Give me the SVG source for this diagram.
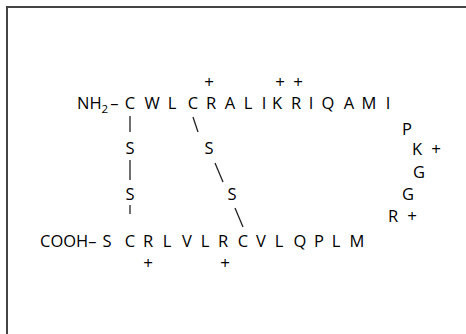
<svg xmlns="http://www.w3.org/2000/svg" width="466" height="334" viewBox="0 0 466 334">
<style>
.t{font-family:"Open Sans","Noto Sans",sans-serif;font-size:16.5px;fill:#000;text-anchor:middle}
.p{font-family:"Open Sans","Noto Sans",sans-serif;font-size:17px;fill:#000;text-anchor:middle}
.s{font-family:"Open Sans","Noto Sans",sans-serif;font-size:16.5px;fill:#000}
.b{stroke:#222;stroke-width:1.3;fill:none}
</style>
<rect width="466" height="334" fill="#fff"/>
<rect x="7" y="7" width="470" height="340" fill="none" stroke="#444" stroke-width="2"/>
<g id="connectors">
<line class="b" x1="130" y1="116" x2="130" y2="132"/>
<line class="b" x1="130" y1="160" x2="130" y2="180" stroke-width="1.8"/>
<line class="b" x1="130" y1="205" x2="130" y2="214"/>
<line class="b" x1="193" y1="117" x2="198" y2="132"/>
<line class="b" x1="215" y1="163" x2="223" y2="182"/>
<line class="b" x1="235" y1="208" x2="243" y2="227"/>
</g>
<g id="n-terminus"><text class="s" x="77" y="109">NH<tspan font-size="11.5" dy="4">2</tspan><tspan dx="2" dy="-4">–</tspan></text></g>
<g id="top-chain">
<text class="t" x="130" y="109">C</text>
<text class="t" x="152" y="109">W</text>
<text class="t" x="172" y="109">L</text>
<text class="t" x="193" y="109">C</text>
<text class="t" x="211" y="109">R</text>
<text class="t" x="230" y="109">A</text>
<text class="t" x="248" y="109">L</text>
<text class="t" x="264" y="109">I</text>
<text class="t" x="277" y="109">K</text>
<text class="t" x="296" y="109">R</text>
<text class="t" x="311" y="109">I</text>
<text class="t" x="328" y="109">Q</text>
<text class="t" x="349" y="109">A</text>
<text class="t" x="369" y="109">M</text>
<text class="t" x="388" y="109">I</text>
</g>
<g id="top-charges">
<text class="p" x="209" y="88">+</text>
<text class="p" x="280" y="88">+</text>
<text class="p" x="298" y="88">+</text>
</g>
<g id="disulfides">
<text class="t" x="130" y="154">S</text>
<text class="t" x="130" y="200">S</text>
<text class="t" x="209" y="154">S</text>
<text class="t" x="232" y="200">S</text>
</g>
<g id="loop">
<text class="t" x="407" y="135">P</text>
<text class="t" x="417" y="155">K</text>
<text class="p" x="436" y="155">+</text>
<text class="t" x="419" y="178">G</text>
<text class="t" x="408" y="200">G</text>
<text class="t" x="393" y="222">R</text>
<text class="p" x="412" y="222">+</text>
</g>
<g id="c-terminus"><text class="s" x="40" y="247">COOH–</text></g>
<g id="bottom-chain">
<text class="t" x="107" y="247">S</text>
<text class="t" x="130" y="247">C</text>
<text class="t" x="148" y="247">R</text>
<text class="t" x="167" y="247">L</text>
<text class="t" x="187" y="247">V</text>
<text class="t" x="205" y="247">L</text>
<text class="t" x="223" y="247">R</text>
<text class="t" x="243" y="247">C</text>
<text class="t" x="261" y="247">V</text>
<text class="t" x="279" y="247">L</text>
<text class="t" x="300" y="247">Q</text>
<text class="t" x="319" y="247">P</text>
<text class="t" x="336" y="247">L</text>
<text class="t" x="357" y="247">M</text>
</g>
<g id="bottom-charges">
<text class="p" x="148" y="269">+</text>
<text class="p" x="225" y="269">+</text>
</g>
</svg>
